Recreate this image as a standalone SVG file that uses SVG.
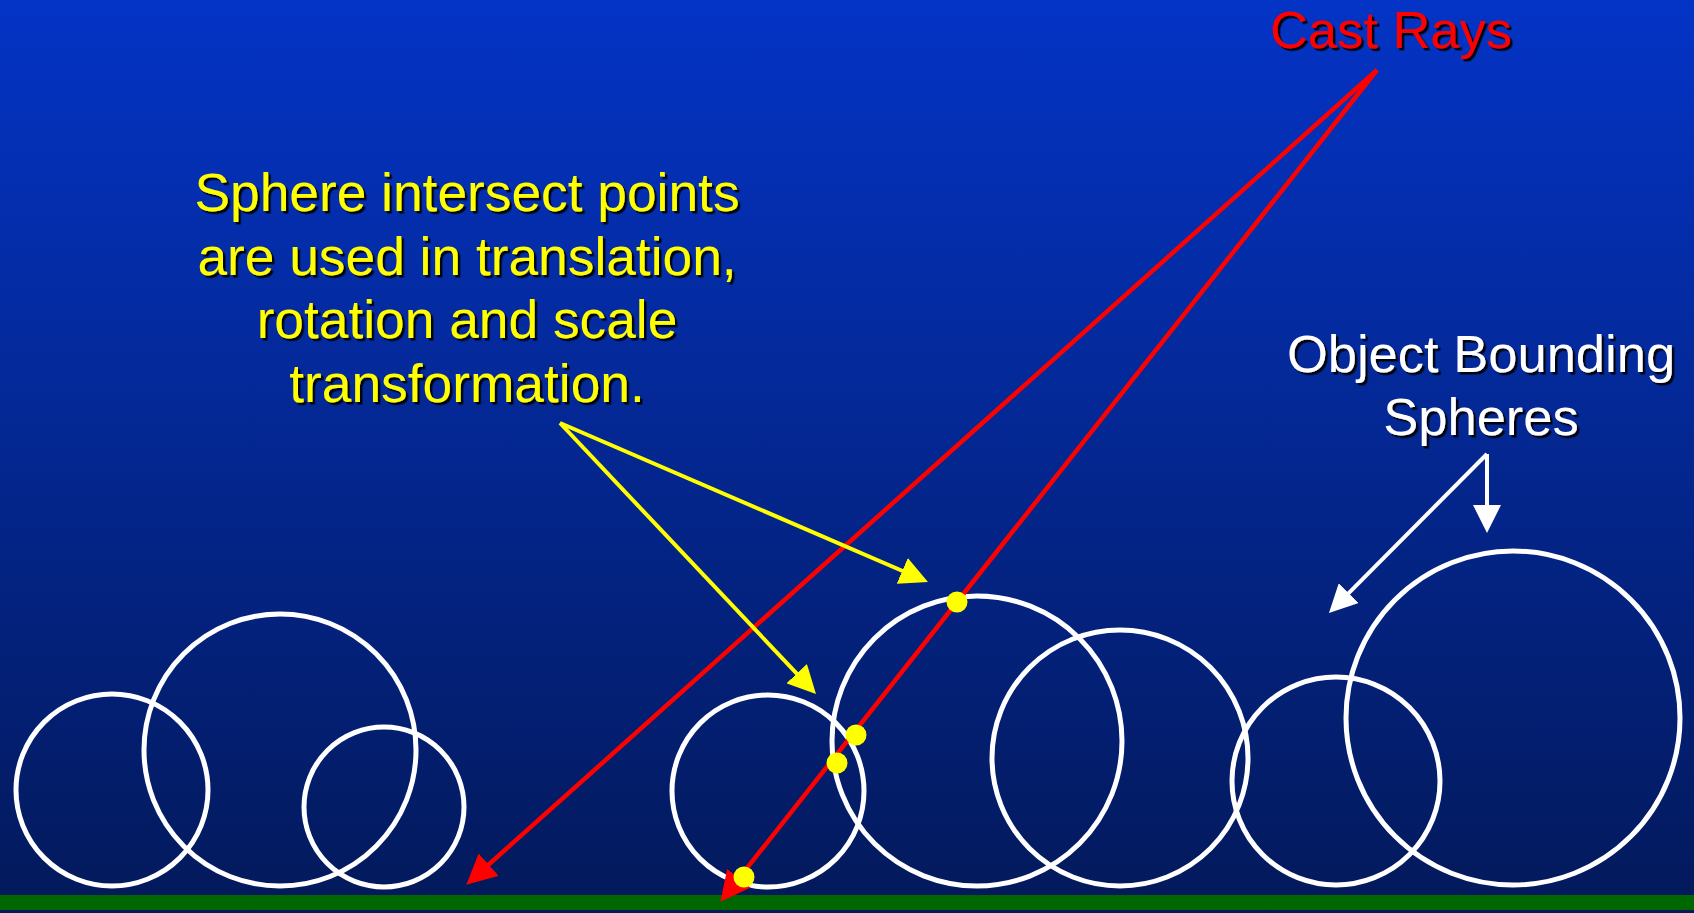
<svg xmlns="http://www.w3.org/2000/svg" width="1694" height="913" viewBox="0 0 1694 913">
<defs>
<linearGradient id="bg" x1="0" y1="0" x2="0" y2="1">
<stop offset="0" stop-color="#0434C6"/>
<stop offset="1" stop-color="#03195A"/>
</linearGradient>
<filter id="shadow" x="-10%" y="-10%" width="130%" height="140%">
<feDropShadow dx="2.5" dy="2.5" stdDeviation="0.3" flood-color="#000" flood-opacity="0.9"/>
</filter>
<marker id="ahRed" markerUnits="userSpaceOnUse" markerWidth="30" markerHeight="30" refX="19" refY="15" orient="auto"><path d="M0,0 L30,15 L0,30 z" fill="#FF0000"/></marker>
<marker id="ahYellow" markerUnits="userSpaceOnUse" markerWidth="28" markerHeight="28" refX="18" refY="14" orient="auto"><path d="M0,0 L28,14 L0,28 z" fill="#FFFF00"/></marker>
<marker id="ahWhite" markerUnits="userSpaceOnUse" markerWidth="28" markerHeight="28" refX="18" refY="14" orient="auto"><path d="M0,0 L28,14 L0,28 z" fill="#FFFFFF"/></marker>
</defs>
<style>
.sphere{fill:none;stroke:#FFFFFF;stroke-width:5}
.lbl{font-family:"Liberation Sans",Arial,sans-serif;text-anchor:middle;filter:url(#shadow)}
.ray{fill:none;stroke:#FF0000;stroke-width:4.5;marker-end:url(#ahRed)}
.yarr{fill:none;stroke:#FFFF00;stroke-width:4;marker-end:url(#ahYellow)}
.warr{fill:none;stroke:#FFFFFF;stroke-width:4;marker-end:url(#ahWhite)}
.dot{fill:#FFFF00}
</style>
<rect x="0" y="0" width="1694" height="913" fill="url(#bg)"/>
<rect id="ground" x="0" y="895" width="1694" height="15" fill="#006600"/>

<g id="spheres-left">
<circle class="sphere" cx="112" cy="790" r="96"/>
<circle class="sphere" cx="280" cy="750" r="136"/>
<circle class="sphere" cx="384" cy="807" r="80"/>
</g>
<g id="spheres-right">
<circle class="sphere" cx="768" cy="791" r="96"/>
<circle class="sphere" cx="977" cy="741" r="145"/>
<circle class="sphere" cx="1120" cy="758" r="128"/>
<circle class="sphere" cx="1336" cy="781" r="104"/>
<circle class="sphere" cx="1513" cy="718" r="167"/>
</g>

<g id="connectors">
<path class="ray" d="M1377,70 L474.5,877.3"/>
<path class="ray" d="M1377,70 L727.2,893.1"/>
<path class="yarr" d="M560,423 L918.8,578"/>
<path class="yarr" d="M560,423 L809.1,686.7"/>
<path class="warr" d="M1487,454 L1487,523"/>
<path class="warr" d="M1487,454 L1336,605.9"/>
</g>

<g id="intersect-points">
<circle class="dot" cx="957" cy="602" r="10.5"/>
<circle class="dot" cx="856" cy="735" r="10.5"/>
<circle class="dot" cx="837" cy="763" r="10.5"/>
<circle class="dot" cx="744" cy="877" r="10.5"/>
</g>

<g id="label-cast-rays">
<text class="lbl" x="1391" y="48" font-size="52.5" fill="#FF0000">Cast Rays</text>
</g>
<g id="label-intersect">
<text class="lbl" x="467" y="211" font-size="53.3" fill="#FFFF00">Sphere intersect points</text>
<text class="lbl" x="467" y="275" font-size="53.3" fill="#FFFF00">are used in translation,</text>
<text class="lbl" x="467" y="338" font-size="53.3" fill="#FFFF00">rotation and scale</text>
<text class="lbl" x="467" y="402" font-size="53.3" fill="#FFFF00">transformation.</text>
</g>
<g id="label-bounding">
<text class="lbl" x="1481" y="372" font-size="52.5" fill="#FFFFFF">Object Bounding</text>
<text class="lbl" x="1481" y="435" font-size="52.5" fill="#FFFFFF">Spheres</text>
</g>
</svg>
